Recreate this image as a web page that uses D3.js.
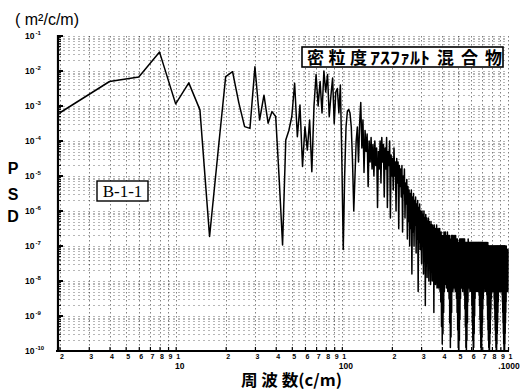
<!DOCTYPE html>
<html>
<head>
<meta charset="utf-8">
<script src="https://cdn.jsdelivr.net/npm/d3@7"></script>
<style>
  body { margin: 0; background: #fff; }
</style>
</head>
<body>
<div id="chart"></div>
<script>
// spacing of the spectral lines (c/m); first line is at freqStep
var freqStep = 2;

// log10 of PSD (m^2/c/m), one value per spectral line, 2 .. 1000 c/m
var psdLog = [
  -3.2, -2.3, -2.17, -1.46, -2.94, -2.34, -3.11, -6.73, -4.3, -2.16,
  -2.02, -2.91, -3.59, -3.64, -1.88, -3.4, -2.69, -3.49, -3.16, -3.3,
  -5.1, -6.97, -3.97, -3.7, -3.3, -2.35, -3.88, -2.97, -4.73, -3.59,
  -4.26, -3.4, -4.88, -3.0, -2.1, -3.0, -2.3, -3.2, -2.0, -2.6,
  -2.1, -3.3, -2.7, -2.2, -3.5, -2.6, -2.5, -3.2, -2.4, -4.5,
  -7.1, -5.0, -3.6, -3.15, -3.1, -3.2, -3.6, -4.6, -6.0, -5.0,
  -4.0, -3.6, -4.6, -3.5, -2.9, -4.2, -3.4, -4.9, -3.7, -4.3,
  -3.8, -5.3, -4.0, -4.6, -3.9, -4.8, -4.1, -5.0, -4.0, -4.7,
  -4.2, -5.9, -4.3, -4.8, -4.0, -5.2, -3.9, -4.6, -4.1, -5.6,
  -4.2, -4.8, -3.9, -5.9, -4.3, -4.7, -4.0, -6.2, -4.4, -5.0,
  -4.5, -5.4, -4.2, -5.0, -4.6, -6.0, -4.5, -5.2, -4.6, -6.5,
  -4.7, -5.3, -4.8, -5.6, -4.7, -6.6, -5.0, -5.5, -4.8, -6.2,
  -5.2, -5.8, -5.1, -6.8, -5.3, -6.3, -5.4, -7.0, -5.5, -6.5,
  -5.4, -7.8, -5.6, -6.6, -5.5, -7.0, -5.7, -6.4, -5.6, -7.2,
  -5.8, -6.8, -5.7, -8.3, -5.9, -6.9, -5.8, -7.1, -6.0, -6.7,
  -7.5, -6.0, -7.0, -6.1, -7.8, -6.0, -7.2, -6.2, -8.7, -6.1,
  -7.4, -6.2, -7.9, -6.3, -7.1, -6.2, -8.0, -6.3, -7.3, -6.4,
  -8.1, -6.3, -7.5, -6.4, -8.0, -6.4, -7.4, -6.5, -8.9, -6.4,
  -7.7, -6.5, -8.1, -6.5, -7.6, -6.4, -8.2, -6.6, -7.8, -6.5,
  -8.2, -6.6, -7.7, -6.5, -8.3, -6.6, -8.6, -6.6, -9.3, -6.7,
  -9.8, -6.7, -9.5, -6.7, -8.9, -6.6, -8.3, -6.7, -8.1, -6.6,
  -8.0, -6.7, -8.2, -6.7, -7.9, -6.6, -8.3, -6.7, -8.1, -6.7,
  -8.5, -6.7, -9.2, -6.8, -9.9, -6.8, -9.6, -6.7, -8.9, -6.7,
  -8.3, -6.7, -8.3, -6.7, -8.1, -6.8, -8.2, -6.7, -8.0, -6.8,
  -8.3, -6.7, -8.2, -6.8, -8.5, -6.8, -8.9, -6.8, -9.4, -6.9,
  -9.9, -6.9, -10.0, -6.9, -9.7, -6.8, -9.1, -6.8, -8.5, -6.8,
  -8.0, -6.8, -8.2, -6.8, -8.1, -6.8, -8.3, -6.8, -8.1, -6.8,
  -8.2, -6.8, -8.4, -6.8, -8.8, -6.9, -9.3, -6.9, -9.9, -6.9,
  -10.0, -6.9, -9.7, -6.9, -9.2, -6.9, -8.6, -6.8, -8.2, -6.9,
  -8.2, -6.9, -8.1, -6.9, -8.3, -6.9, -8.1, -6.9, -8.2, -6.9,
  -8.3, -6.9, -8.7, -6.9, -9.2, -6.9, -9.7, -6.9, -10.0, -6.9,
  -9.9, -6.9, -9.5, -6.9, -9.0, -6.9, -8.5, -6.9, -8.2, -6.9,
  -8.1, -6.9, -8.3, -6.9, -8.2, -6.9, -8.0, -6.9, -8.3, -6.9,
  -8.1, -6.9, -8.2, -6.9, -8.4, -6.9, -8.7, -6.9, -9.1, -6.9,
  -9.5, -6.9, -9.9, -6.9, -10.0, -6.9, -9.9, -6.9, -9.6, -6.9,
  -9.2, -6.9, -8.8, -7.0, -8.5, -6.9, -8.2, -7.0, -8.2, -6.9,
  -8.0, -7.0, -8.3, -6.9, -8.2, -7.0, -8.1, -6.9, -8.3, -7.0,
  -8.2, -6.9, -8.4, -7.0, -8.7, -7.0, -9.1, -6.9, -9.4, -7.0,
  -9.7, -7.0, -9.9, -7.0, -10.0, -7.0, -10.0, -7.0, -9.8, -7.0,
  -9.5, -7.0, -9.1, -7.0, -8.8, -7.0, -8.5, -7.0, -8.3, -7.0,
  -8.1, -7.0, -8.2, -7.0, -8.3, -7.0, -8.2, -7.0, -8.1, -7.0,
  -8.3, -7.0, -8.5, -7.0, -8.8, -7.0, -9.1, -7.0, -9.4, -7.0,
  -9.7, -7.0, -9.9, -7.0, -10.0, -7.0, -10.0, -7.0, -9.8, -7.0,
  -9.5, -7.0, -9.2, -7.0, -8.9, -7.0, -8.6, -7.0, -8.3, -7.0,
  -8.3, -7.0, -8.2, -7.0, -8.1, -7.0, -8.3, -7.0, -8.2, -7.0,
  -8.3, -7.0, -8.2, -7.0, -8.1, -7.0, -8.3, -7.0, -8.2, -7.0,
  -8.4, -7.0, -8.6, -7.0, -8.9, -7.0, -9.2, -7.0, -9.5, -7.0,
  -9.8, -7.0, -10.0, -7.0, -10.0, -7.0, -10.0, -7.0, -9.8, -7.0,
  -9.5, -7.1, -9.2, -7.0, -8.9, -7.1, -8.6, -7.0, -8.3, -7.1,
  -8.3, -7.1, -8.2, -7.1, -8.3, -7.1, -8.2, -7.1, -8.3, -7.1
];

var xDomain = [2, 1000];
var yDomain = [1e-10, 1e-1];
var xDecades = [10, 100, 1000];
var xDecadeLabels = ["10", "100", ".1000"];
var yDecades = [1e-1, 1e-2, 1e-3, 1e-4, 1e-5, 1e-6, 1e-7, 1e-8, 1e-9, 1e-10];
var yDecadeExps = ["-1", "-2", "-3", "-4", "-5", "-6", "-7", "-8", "-9", "-10"];

var unitText = "( m\u00b2/c/m)";
var yTitle = ["P", "S", "D"];
var xTitle = "周 波 数(c/m)";
var materialText = ["密粒度", "ｱｽﾌｧﾙﾄ", "混合物"];
var sampleText = "B-1-1";

var width = 521, height = 391;
var sans = "'Liberation Sans', Arial, sans-serif";
var cjk = "'Noto Sans CJK JP', 'Noto Sans', sans-serif";

var svg = d3.select("#chart").append("svg")
    .attr("width", width)
    .attr("height", height);

svg.append("rect")
    .attr("width", width)
    .attr("height", height)
    .attr("fill", "#fff");

var x = d3.scaleLog().domain(xDomain).range([59.5, 508]);
var y = d3.scaleLog().domain(yDomain).range([351, 36]);

var axisLeftX = 58;

var data = psdLog.map(function(e, i) {
	return { f: (i + 1) * freqStep, p: Math.pow(10, e) };
});

// dotted grid
var grid = svg.append("g");
grid.selectAll("line.h")
	.data(y.ticks())
	.enter().append("line")
		.attr("x1", axisLeftX)
		.attr("x2", x(xDomain[1]))
		.attr("y1", function(d) { return Math.round(y(d)) + 0.5; })
		.attr("y2", function(d) { return Math.round(y(d)) + 0.5; })
		.style("stroke", "#000")
		.style("stroke-width", 0.8)
		.style("stroke-dasharray", "2,3")
		.style("opacity", 0.35);

grid.selectAll("line.v")
	.data(x.ticks())
	.enter().append("line")
		.attr("x1", function(d) { return Math.round(x(d)) + 0.5; })
		.attr("x2", function(d) { return Math.round(x(d)) + 0.5; })
		.attr("y1", y(yDomain[1]))
		.attr("y2", y(yDomain[0]))
		.style("stroke", "#000")
		.style("stroke-width", 0.9)
		.style("stroke-dasharray", "1.5,2.5")
		.style("opacity", 0.55);

// the spectrum
var line = d3.line()
	.x(function(d) { return x(d.f); })
	.y(function(d) { return y(d.p); });

svg.append("path")
	.datum(data)
	.attr("d", line)
	.style("fill", "none")
	.style("stroke", "#000")
	.style("stroke-width", 1.5)
	.style("stroke-linejoin", "round");

// x axis
var xAxis = d3.axisBottom(x)
	.tickValues(x.ticks())
	.tickSizeInner(-4)
	.tickSizeOuter(0)
	.tickPadding(3)
	.tickFormat(function(d) { return String(d).charAt(0); });

var gx = svg.append("g")
	.attr("transform", "translate(0," + y(yDomain[0]) + ")")
	.call(xAxis);
gx.select(".domain").remove();
gx.selectAll(".tick line").style("stroke", "#000").style("stroke-width", 1.2);
gx.selectAll(".tick text")
	.attr("x", 2)
	.style("font-family", sans)
	.style("font-weight", "bold")
	.style("font-size", "7px")
	.style("fill", "#000");

svg.append("line")
	.attr("x1", axisLeftX - 2)
	.attr("x2", x(xDomain[1]) + 1)
	.attr("y1", y(yDomain[0]))
	.attr("y2", y(yDomain[0]))
	.style("stroke", "#000")
	.style("stroke-width", 2);

svg.selectAll("text.xdec")
	.data(xDecades)
	.enter().append("text")
		.attr("x", function(d, i) { return x(d) + (i === 2 ? 1 : 4); })
		.attr("y", y(yDomain[0]) + 18)
		.style("font-family", sans)
		.style("font-weight", "bold")
		.style("font-size", "8.5px")
		.style("text-anchor", "middle")
		.text(function(d, i) { return xDecadeLabels[i]; });

// y axis
svg.append("line")
	.attr("x1", axisLeftX)
	.attr("x2", axisLeftX)
	.attr("y1", y(yDomain[1]) - 1)
	.attr("y2", y(yDomain[0]) + 1)
	.style("stroke", "#000")
	.style("stroke-width", 2.2);

function isDecade(d) {
	return Math.abs(Math.log10(d) - Math.round(Math.log10(d))) < 1e-6;
}

svg.selectAll("line.ytick")
	.data(y.ticks())
	.enter().append("line")
		.attr("x1", axisLeftX)
		.attr("x2", function(d) { return axisLeftX + (isDecade(d) ? 5 : 3); })
		.attr("y1", function(d) { return y(d); })
		.attr("y2", function(d) { return y(d); })
		.style("stroke", "#000")
		.style("stroke-width", function(d) { return isDecade(d) ? 2 : 1; });

var ylab = svg.selectAll("text.ydec")
	.data(yDecades)
	.enter().append("text")
		.attr("x", 25)
		.attr("y", function(d) { return y(d) + 3; })
		.style("font-family", sans)
		.style("font-weight", "bold")
		.style("font-size", "8.5px");
ylab.append("tspan").text("10");
ylab.append("tspan")
	.attr("dx", 1)
	.attr("dy", -4)
	.style("font-size", "6px")
	.text(function(d, i) { return yDecadeExps[i]; });

// titles
svg.append("text")
	.attr("x", 15)
	.attr("y", 25)
	.style("font-family", sans)
	.style("font-size", "16px")
	.text(unitText);

svg.selectAll("text.ytitle")
	.data(yTitle)
	.enter().append("text")
		.attr("x", 13)
		.attr("y", function(d, i) { return [174, 200, 222][i]; })
		.style("font-family", sans)
		.style("font-weight", "bold")
		.style("font-size", "16px")
		.style("text-anchor", "middle")
		.text(function(d) { return d; });

svg.append("text")
	.attr("x", 241)
	.attr("y", 386)
	.attr("textLength", 101)
	.attr("lengthAdjust", "spacingAndGlyphs")
	.style("font-family", cjk)
	.style("font-weight", "bold")
	.style("font-size", "16px")
	.text(xTitle);

// material label box
svg.append("rect")
	.attr("x", 302)
	.attr("y", 47)
	.attr("width", 201)
	.attr("height", 20)
	.style("fill", "#fff")
	.style("stroke", "#000")
	.style("stroke-width", 1.6);

var matPos = [[307, 60], [370, 60], [437, 65]];
svg.selectAll("text.mat")
	.data(materialText)
	.enter().append("text")
		.attr("x", function(d, i) { return matPos[i][0]; })
		.attr("y", 64)
		.attr("textLength", function(d, i) { return matPos[i][1]; })
		.attr("lengthAdjust", function(d, i) { return i === 1 ? "spacingAndGlyphs" : "spacing"; })
		.style("font-family", cjk)
		.style("font-weight", "bold")
		.style("font-size", "17px")
		.text(function(d) { return d; });

// sample label box
svg.append("rect")
	.attr("x", 97)
	.attr("y", 181)
	.attr("width", 51)
	.attr("height", 20)
	.style("fill", "#fff")
	.style("stroke", "#000")
	.style("stroke-width", 1.4);

svg.append("text")
	.attr("x", 122.5)
	.attr("y", 197)
	.style("font-family", "'Liberation Serif', 'Times New Roman', serif")
	.style("font-size", "17px")
	.style("text-anchor", "middle")
	.text(sampleText);
</script>
</body>
</html>
